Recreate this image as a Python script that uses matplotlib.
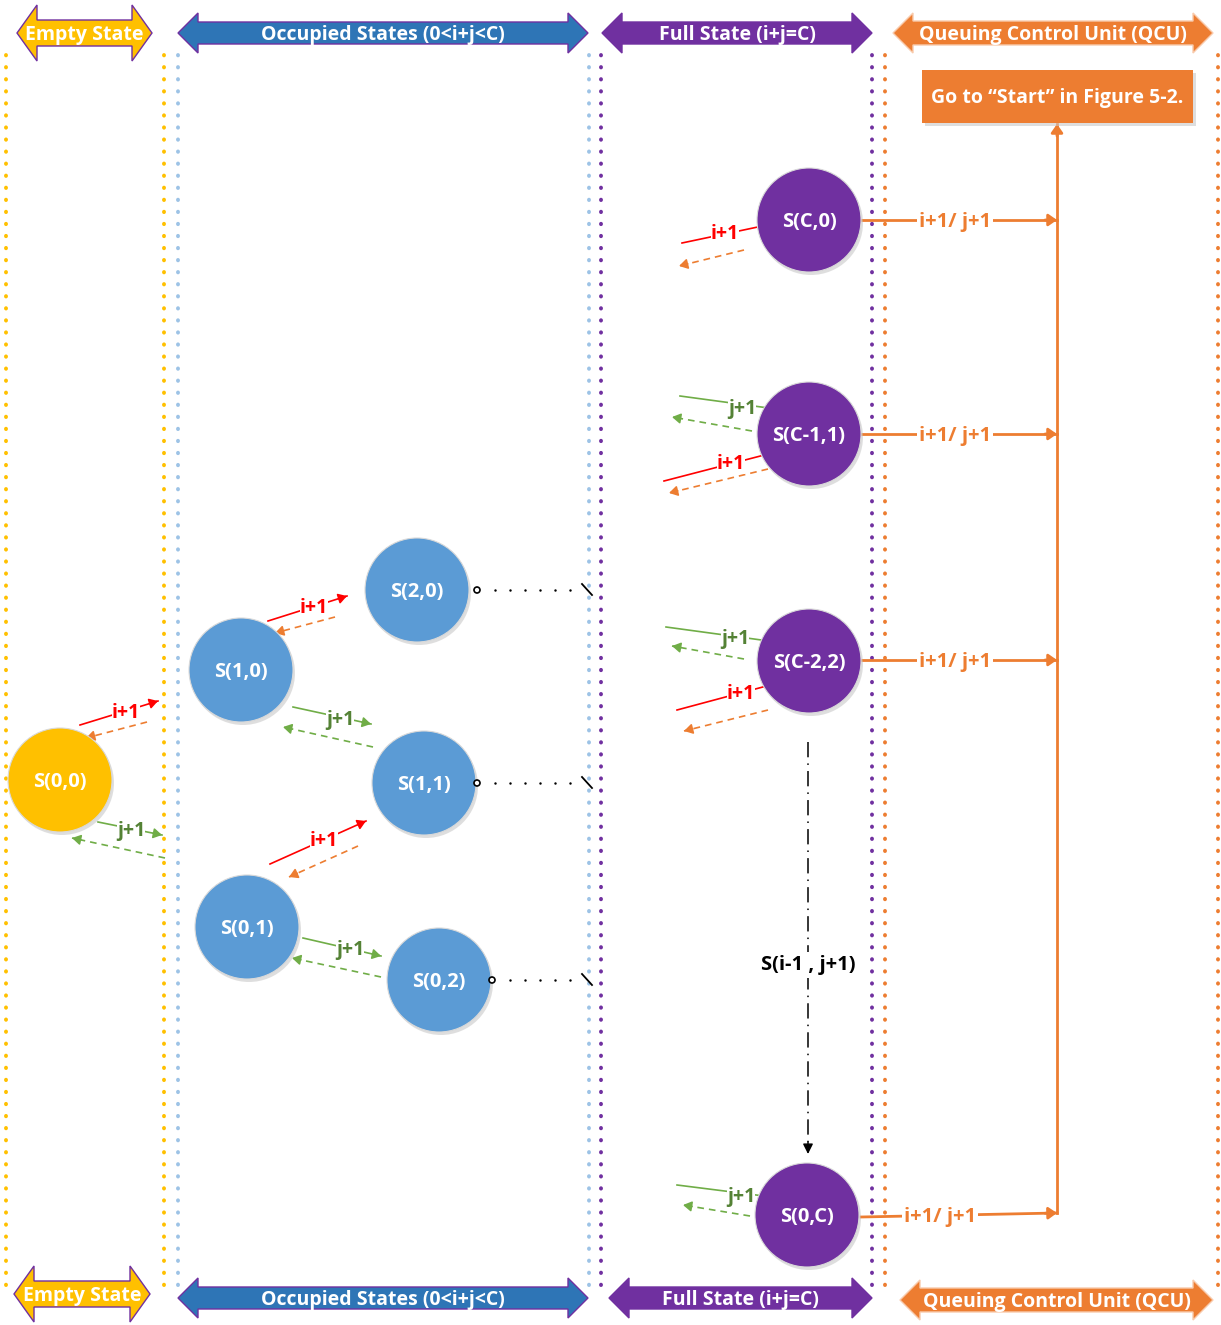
import numpy as np
import matplotlib
matplotlib.use('Agg')
import matplotlib.pyplot as plt
from matplotlib.patches import Circle, Polygon, Rectangle

plt.rcParams['font.family'] = ['Open Sans', 'DejaVu Sans']

YELLOW = '#FFC000'
BLUE = '#5B9BD5'
DBLUE = '#2E75B6'
PURPLE = '#7030A0'
ORANGE = '#ED7D31'
RED = '#FF0000'
GREEN = '#70AD47'
DGREEN = '#548235'

# section banners
bannerLabels = ['Empty State', 'Occupied States (0<i+j<C)', 'Full State (i+j=C)', 'Queuing Control Unit (QCU)']
bannerColors = [YELLOW, DBLUE, PURPLE, ORANGE]
bannerTop = [(17, 152, 33, 28, 13), (178, 588, 33, 20, 11), (602, 872, 33, 20, 11), (893, 1213, 33, 20, 12)]
bannerBottom = [(14, 150, 1294, 28, 13), (178, 588, 1298, 20, 11), (609, 872, 1298, 20, 11), (900, 1213, 1300, 20, 12)]

# dotted column separators
sepX = [6, 164, 178, 589, 601, 872, 885, 1218]
sepColors = [YELLOW, YELLOW, '#9DC3E6', '#9DC3E6', PURPLE, PURPLE, ORANGE, ORANGE]

# states
nodeNames = ['S(0,0)', 'S(1,0)', 'S(2,0)', 'S(1,1)', 'S(0,1)', 'S(0,2)',
             'S(C,0)', 'S(C-1,1)', 'S(C-2,2)', 'S(0,C)']
nodeX = [60, 241, 417, 424, 247, 439, 809, 809, 809, 807]
nodeY = [780, 670, 590, 783, 927, 980, 220, 434, 661, 1215]
nodeColors = [YELLOW, BLUE, BLUE, BLUE, BLUE, BLUE, PURPLE, PURPLE, PURPLE, PURPLE]

# transitions: label, forward start/end, label pos, back start/end
transLabels = ['i+1', 'j+1', 'i+1', 'j+1', 'i+1', 'j+1', 'i+1', 'j+1', 'i+1', 'j+1', 'i+1', 'j+1']
transFwd = [((80, 725), (158, 701)), ((98, 822), (162, 835)),
            ((268, 621), (347, 596)), ((293, 707), (371, 724)),
            ((270, 864), (366, 821)), ((303, 938), (381, 956)),
            ((682, 243), (772, 224)),
            ((680, 396), (776, 409)), ((664, 481), (772, 453)),
            ((666, 627), (776, 642)), ((677, 710), (774, 684)),
            ((677, 1185), (772, 1197))]
transLabelPos = [(126, 711), (131, 829), (314, 606), (340, 718), (324, 839), (350, 948),
                 (725, 232), (742, 407), (731, 462), (735, 637), (741, 692), (741, 1195)]
transBack = [((147, 722), (86, 738)), ((165, 858), (72, 838)),
             ((335, 617), (275, 633)), ((373, 747), (283, 727)),
             ((358, 846), (289, 877)), ((381, 977), (292, 958)),
             ((744, 250), (679, 266)),
             ((752, 431), (672, 417)), ((768, 469), (669, 493)),
             ((744, 659), (672, 646)), ((768, 710), (684, 731)),
             ((750, 1216), (683, 1205))]

# QCU outputs
outY = [220, 434, 660, 1215]
outLabel = 'i+1/ j+1'
qcuX = 1057
boxText = 'Go to \u201cStart\u201d in Figure 5-2.'

# dotted continuation from inner states
contY = [590, 783, 980]
contX = [477, 477, 492]

DY = 2  # text baseline nudge


def dbl_arrow(ax, x0, x1, yc, hh, hs, color, edge, text, hl=20):
    pts = [(x0, yc), (x0 + hl, yc - hh), (x0 + hl, yc - hs), (x1 - hl, yc - hs),
           (x1 - hl, yc - hh), (x1, yc), (x1 - hl, yc + hh), (x1 - hl, yc + hs),
           (x0 + hl, yc + hs), (x0 + hl, yc + hh)]
    ax.add_patch(Polygon(pts, closed=True, facecolor=color, edgecolor=edge, lw=1, zorder=3))
    ax.text((x0 + x1) / 2, yc + DY, text, color='white', fontsize=14, fontweight='bold',
            ha='center', va='center', zorder=4)


def arrow(ax, p0, p1, color, ls='-', lw=1.2, hl=9, hw=0.3):
    ax.plot([p0[0], p1[0]], [p0[1], p1[1]], color=color, ls=ls, lw=lw, zorder=2)
    d = np.array(p1, float) - np.array(p0, float)
    u = d / np.hypot(*d)
    start = np.array(p1) - u * hl
    ax.annotate('', xy=p1, xytext=tuple(start),
                arrowprops=dict(arrowstyle='-|>,head_length=0.5,head_width=%s' % hw,
                                color=color, lw=lw, shrinkA=0, shrinkB=0), zorder=2)


fig = plt.figure(figsize=(12.21, 13.25), dpi=100)
ax = fig.add_axes([0, 0, 1, 1])
ax.set_xlim(0, 1221)
ax.set_ylim(1325, 0)
ax.axis('off')

for x, c in zip(sepX, sepColors):
    ax.plot([x, x], [55, 1290], color=c, lw=2.8, ls=(0, (0.1, 3.0)),
            dash_capstyle='round', zorder=1)

edges = [PURPLE, PURPLE, PURPLE, '#F8CBAD']
for lab, col, ed, t, b in zip(bannerLabels, bannerColors, edges, bannerTop, bannerBottom):
    dbl_arrow(ax, t[0], t[1], t[2], t[3], t[4], col, ed, lab)
    dbl_arrow(ax, b[0], b[1], b[2], b[3], b[4], col, ed, lab)

for i, lab in enumerate(transLabels):
    fwd = RED if lab == 'i+1' else GREEN
    back = ORANGE if lab == 'i+1' else GREEN
    tcol = RED if lab == 'i+1' else DGREEN
    arrow(ax, transFwd[i][0], transFwd[i][1], fwd)
    arrow(ax, transBack[i][0], transBack[i][1], back, ls=(0, (4, 3)))
    ax.text(transLabelPos[i][0], transLabelPos[i][1] + DY, lab, color=tcol, fontsize=14,
            fontweight='bold', ha='center', va='center', zorder=3,
            bbox=dict(facecolor='white', edgecolor='none', pad=0.2))

# dotted continuation to full states
for x0, y in zip(contX, contY):
    ax.add_patch(Circle((x0, y), 3, facecolor='white', edgecolor='black', lw=1.2, zorder=6))
    xs = np.arange(x0 + 18, 575, 15)
    ax.plot(xs, [y] * len(xs), 'k.', ms=1.5, zorder=3)
    ax.plot([582, 592], [y - 6, y + 5], color='black', lw=1.3, zorder=3)

# generic path down to S(0,C)
ax.plot([808, 808], [742, 1145], color='black', lw=1.1, ls=(0, (10, 4, 1, 4)), zorder=2)
ax.annotate('', xy=(808, 1154), xytext=(808, 1142),
            arrowprops=dict(arrowstyle='-|>,head_length=0.6,head_width=0.3', color='black',
                            lw=1, shrinkA=0, shrinkB=0))
ax.text(808, 963 + DY, 'S(i-1 , j+1)', fontsize=14.5, fontweight='bold', ha='center', va='center',
        zorder=3, bbox=dict(facecolor='white', edgecolor='none', pad=2))

# QCU outputs
for k, y in enumerate(outY):
    last = k == len(outY) - 1
    arrow(ax, (861, y + (2 if last else 0)), (qcuX, y - 2 if last else y), ORANGE, lw=2, hl=12, hw=0.35)
    lx = 940 if last else 955
    ax.text(lx, y + DY, outLabel, color=ORANGE, fontsize=14.5, fontweight='bold', ha='center',
            va='center', zorder=3, bbox=dict(facecolor='white', edgecolor='none', pad=1.5))
arrow(ax, (qcuX, outY[-1] - 2), (qcuX, 124), ORANGE, lw=2, hl=12, hw=0.35)

ax.add_patch(Rectangle((925, 73), 271, 53, facecolor='#c8c8c8', edgecolor='none', zorder=3, alpha=0.6))
ax.add_patch(Rectangle((922, 70), 271, 53, facecolor=ORANGE, edgecolor='none', zorder=4))
ax.text(1057, 96 + DY, boxText, color='white', fontsize=14, fontweight='bold', ha='center',
        va='center', zorder=5)

for name, x, y, c in zip(nodeNames, nodeX, nodeY, nodeColors):
    ax.add_patch(Circle((x + 2, y + 3), 52, facecolor='#bfbfbf', edgecolor='none', alpha=0.5, zorder=4))
    ax.add_patch(Circle((x, y), 52, facecolor=c, edgecolor='#d9d9d9', lw=0.8, zorder=5))
    ax.text(x, y + DY, name, color='white', fontsize=14.5, fontweight='bold', ha='center',
            va='center', zorder=6)

fig.savefig('out.png', dpi=100)
